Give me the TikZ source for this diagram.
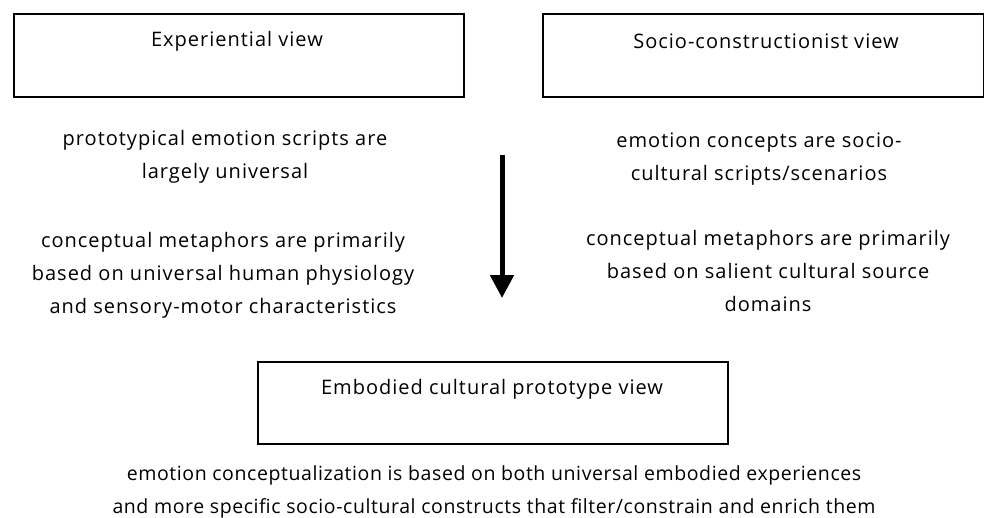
\documentclass[tikz,border=0pt]{standalone}
\usepackage{fontspec}
\setmainfont[LetterSpace=5.0]{Open Sans}
\newfontfamily\bottomfont[LetterSpace=3.0]{Open Sans}
\usetikzlibrary{arrows.meta}
\tikzset{
  viewbox/.style={draw=black, line width=2pt, rectangle, inner sep=0pt, anchor=north west},
  txt/.style={font=\fontsize{20}{33}\selectfont, align=center, text=black, inner sep=0pt},
  btxt/.style={font=\bottomfont\fontsize{19.5}{33}\selectfont, align=center, text=black, inner sep=0pt},
  bigarrow/.style={line width=5pt, -{Triangle[width=23pt,length=23pt]}}
}
\begin{document}
\begin{tikzpicture}[x=1pt,y=-1pt]
\useasboundingbox (0,0) rectangle (984,517);
% boxes
\node[viewbox, minimum width=450pt, minimum height=83pt] (exp) at (13,13) {};
\node[viewbox, minimum width=441pt, minimum height=83pt] (soc) at (542,13) {};
\node[viewbox, minimum width=470pt, minimum height=82pt] (emb) at (257,361) {};
% titles
\node[txt] (expt) at (237,41) {Experiential view};
\node[txt] (soct) at (766,41) {Socio-constructionist view};
\node[txt] (embt) at (492,389) {Embodied cultural prototype view};
% left texts
\node[txt] (l1) at (225,157) {prototypical emotion scripts are\\largely universal};
\node[txt] (l2) at (223,275) {conceptual metaphors are primarily\\based on universal human physiology\\and sensory-motor characteristics};
% right texts
\node[txt] (r1) at (759,159) {emotion concepts are socio-\\cultural scripts/scenarios};
\node[txt] (r2) at (768,271) {conceptual metaphors are primarily\\based on salient cultural source\\domains};
% bottom text
\node[btxt] (b) at (494,492) {emotion conceptualization is based on both universal embodied experiences\\and more specific socio-cultural constructs that filter/constrain and enrich them};
% arrow
\coordinate (atop) at (502,155);
\coordinate (abot) at (502,298);
\draw[bigarrow] (atop) -- (abot);
\end{tikzpicture}
\end{document}
